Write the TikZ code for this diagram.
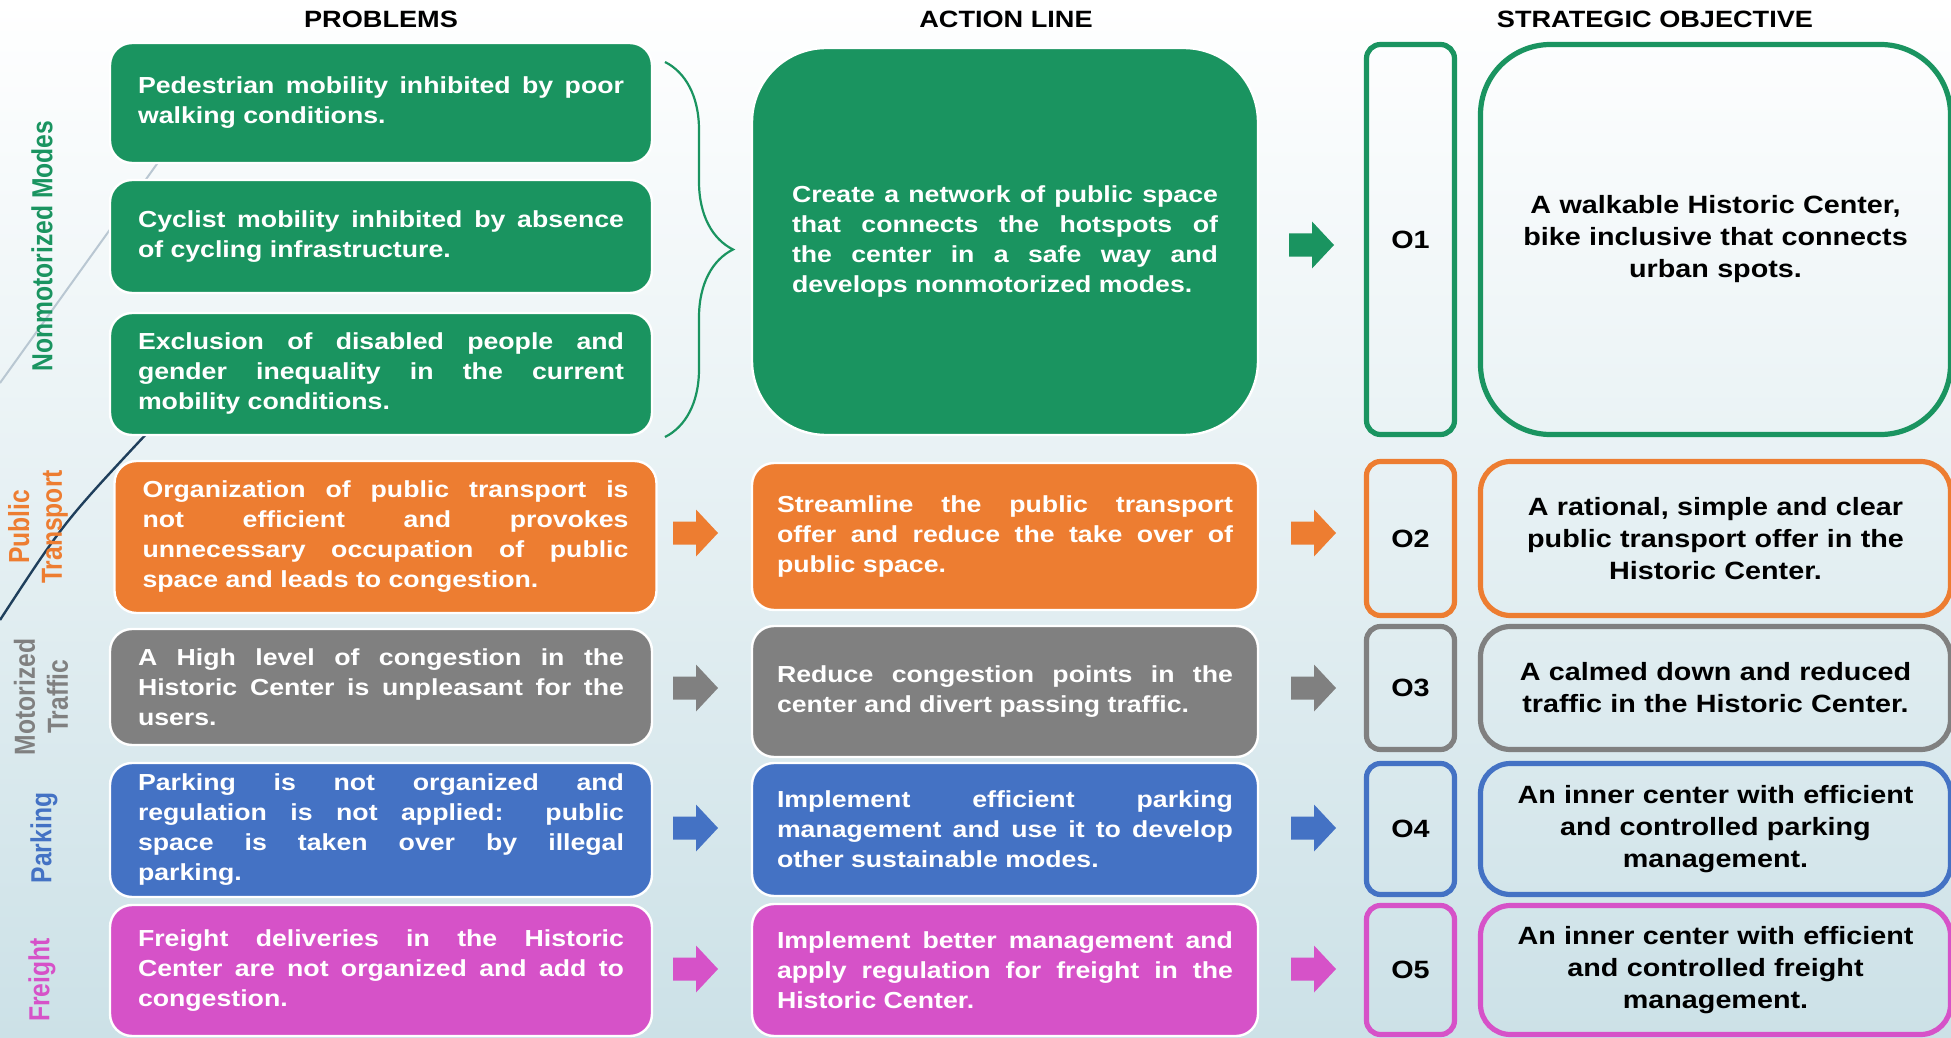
\documentclass[tikz,border=0pt]{standalone}
\usepackage{fontspec}
\setmainfont{Liberation Sans}[FakeStretch=1.15]
\newfontfamily\sidefont{Liberation Sans}[FakeStretch=0.85]
\usepackage{xcolor}
\tikzset{>=latex}
\usetikzlibrary{decorations.pathreplacing}

\definecolor{cgreen}{RGB}{26,148,96}
\definecolor{corange}{RGB}{237,125,49}
\definecolor{cgrey}{RGB}{128,128,128}
\definecolor{cblue}{RGB}{68,114,196}
\definecolor{cmagenta}{RGB}{214,82,200}
\definecolor{bgbottom}{RGB}{204,225,231}
\definecolor{swoosh}{RGB}{31,63,92}
\definecolor{swooshlight}{RGB}{185,199,210}

\tikzset{
  header/.style={font=\fontsize{11.8}{14}\selectfont\bfseries},
  prob/.style={fill=#1, draw=white, line width=1.2pt, rounded corners=11pt,
    text=white, font=\fontsize{11.6}{15}\selectfont\bfseries, align=justify,
    text width=243pt, minimum width=271pt, inner sep=0pt},
  act/.style={prob=#1, minimum width=253pt, text width=228pt},
  objid/.style={draw=#1, line width=2.6pt, rounded corners=7pt, minimum width=44pt,
    font=\fontsize{12.5}{15}\selectfont\bfseries},
  obj/.style={draw=#1, line width=2.6pt, rounded corners=15pt, minimum width=235pt,
    text width=225pt, align=center, font=\fontsize{12.5}{16}\selectfont\bfseries},
  side/.style={rotate=90, text=#1, align=center,
    font=\sidefont\fontsize{14.5}{16.5}\selectfont\bfseries},
  pics/blkarrow/.style={code={
    \fill[#1] (0,-11.5) -- (23,-11.5) -- (23,-23.5) -- (45,0) -- (23,23.5)
      -- (23,11.5) -- (0,11.5) -- cycle;}}
}

\begin{document}
\begin{tikzpicture}[x=0.5pt, y=-0.5pt]
  \fill[top color=white, bottom color=bgbottom] (0,0) rectangle (1951,1038);
  \useasboundingbox (0,0) rectangle (1951,1038);
  \clip (0,0) rectangle (1951,1038);

  % background swooshes
  \draw[swooshlight, line width=1pt] (0,383) -- (172,143);
  \draw[swoosh, line width=1.2pt] (0,620) .. controls (64,522) .. (150,430);

  % column titles
  \node[header] (hprob) at (381,19) {PROBLEMS};
  \node[header] (hact) at (1006,19) {ACTION LINE};
  \node[header] (hobj) at (1655,19) {STRATEGIC OBJECTIVE};

  % side labels
  \node[side=cgreen] (l1) at (42,246) {Nonmotorized Modes};
  \node[side=corange] (l2) at (38,527) {Public\\Transport};
  \node[side=cgrey] (l3) at (41,697) {Motorized\\Traffic};
  \node[side=cblue] (l4) at (44,838) {Parking};
  \node[side=cmagenta] (l5) at (42,980) {Freight};

  % problems
  \node[prob=cgreen, minimum height=60pt] (p1) at (381,103)
    {Pedestrian mobility inhibited by poor\linebreak walking conditions.};
  \node[prob=cgreen, minimum height=56.5pt] (p2) at (381,236.5)
    {Cyclist mobility inhibited by absence\linebreak of cycling infrastructure.};
  \node[prob=cgreen, minimum height=61pt] (p3) at (381,374)
    {Exclusion of disabled people and\linebreak gender inequality in the current\linebreak mobility conditions.};
  \node[prob=corange, minimum height=76pt] (p4) at (385.5,537)
    {Organization of public transport is\linebreak not efficient and provokes\linebreak unnecessary occupation of public\linebreak space and leads to congestion.};
  \node[prob=cgrey, minimum height=58pt] (p5) at (381,687)
    {A High level of congestion in the\linebreak Historic Center is unpleasant for the\linebreak users.};
  \node[prob=cblue, minimum height=67pt] (p6) at (381,830)
    {Parking is not organized and\linebreak regulation is not applied: public\linebreak space is taken over by illegal\linebreak parking.};
  \node[prob=cmagenta, minimum height=65.5pt] (p7) at (381,970.5)
    {Freight deliveries in the Historic\linebreak Center are not organized and add to\linebreak congestion.};

  \draw[cgreen, line width=1.1pt, decorate, decoration={brace, amplitude=34pt}]
    (665,62) -- (665,437);

  % action lines
  \node[act=cgreen, minimum height=193.5pt, rounded corners=37pt, text width=213pt] (a1) at (1005,241.5)
    {Create a network of public space\linebreak that connects the hotspots of\linebreak the center in a safe way and\linebreak develops nonmotorized modes.};
  \node[act=corange, minimum height=73.5pt] (a2) at (1005,536.5)
    {Streamline the public transport\linebreak offer and reduce the take over of\linebreak public space.};
  \node[act=cgrey, minimum height=65.5pt] (a3) at (1005,691.5)
    {Reduce congestion points in the\linebreak center and divert passing traffic.};
  \node[act=cblue, minimum height=66.5pt] (a4) at (1005,829.5)
    {Implement efficient parking\linebreak management and use it to develop\linebreak other sustainable modes.};
  \node[act=cmagenta, minimum height=66pt] (a5) at (1005,970)
    {Implement better management and\linebreak apply regulation for freight in the\linebreak Historic Center.};

  % block arrows
  \pic at (1289,245) {blkarrow=cgreen};
  \pic at (673,533) {blkarrow=corange};
  \pic at (1291,533) {blkarrow=corange};
  \pic at (673,688) {blkarrow=cgrey};
  \pic at (1291,688) {blkarrow=cgrey};
  \pic at (673,828) {blkarrow=cblue};
  \pic at (1291,828) {blkarrow=cblue};
  \pic at (673,969) {blkarrow=cmagenta};
  \pic at (1291,969) {blkarrow=cmagenta};

  % objectives
  \node[objid=cgreen, minimum height=195pt] (o1) at (1410.5,239.5) {O1};
  \node[objid=corange, minimum height=77pt] (o2) at (1410.5,538.5) {O2};
  \node[objid=cgrey, minimum height=61.5pt] (o3) at (1410.5,688) {O3};
  \node[objid=cblue, minimum height=65.5pt] (o4) at (1410.5,829) {O4};
  \node[objid=cmagenta, minimum height=64.5pt] (o5) at (1410.5,970) {O5};

  \node[obj=cgreen, minimum height=195pt, rounded corners=35pt] (s1) at (1715.5,239.5)
    {A walkable Historic Center,\\ bike inclusive that connects\\ urban spots.};
  \node[obj=corange, minimum height=77pt] (s2) at (1715.5,538.5)
    {A rational, simple and clear\\ public transport offer in the\\ Historic Center.};
  \node[obj=cgrey, minimum height=61.5pt] (s3) at (1715.5,688)
    {A calmed down and reduced\\ traffic in the Historic Center.};
  \node[obj=cblue, minimum height=65.5pt] (s4) at (1715.5,829)
    {An inner center with efficient\\ and controlled parking\\ management.};
  \node[obj=cmagenta, minimum height=64.5pt] (s5) at (1715.5,970)
    {An inner center with efficient\\ and controlled freight\\ management.};
\end{tikzpicture}
\end{document}
